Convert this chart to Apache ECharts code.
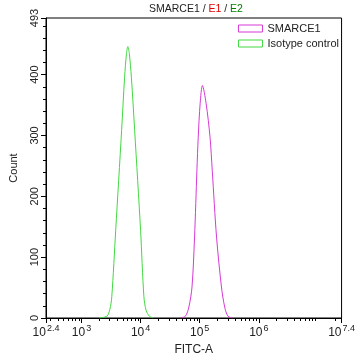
<!DOCTYPE html>
<html><head><meta charset="utf-8">
<script src="https://cdn.jsdelivr.net/npm/echarts@6/dist/echarts.min.js"></script>
<style>html,body{margin:0;padding:0;background:#fff}#c{width:358px;height:361px}</style>
</head><body><div id="c"></div>
<script>
// x values are log10(FITC-A)
const smarceX = [4.676, 4.759, 4.817, 4.870, 4.913, 4.953, 4.975, 5.008, 5.046, 5.108, 5.175, 5.212, 5.285, 5.368, 5.423, 5.478, 5.556];
const smarceY = [0, 3, 18, 51, 133, 243, 297, 353, 382, 353, 297, 243, 133, 51, 18, 3, 0];
const isoX = [3.297, 3.430, 3.480, 3.513, 3.579, 3.679, 3.729, 3.762, 3.784, 3.809, 3.845, 3.900, 4.000, 4.056, 4.095, 4.149, 4.211];
const isoY = [0, 3, 14, 35, 144, 308, 395, 435, 446, 435, 395, 308, 144, 35, 12, 3, 0];
const xMajorTicks = [2.4, 3, 4, 5, 6, 7.4];
const yLabels = [0, 100, 200, 300, 400, 493];
const seriesNames = ['SMARCE1', 'Isotype control'];

const xMinor = [];
for (let d = 2; d <= 7; d++) for (let k = 2; k <= 9; k++) {
  const v = d + Math.log10(k);
  if (v > 2.4 && v < 7.4) xMinor.push(v);
}
const yMinor = [];
for (let v = 20; v < 493; v += 20) if (v % 100) yMinor.push(v);

const font = 'Liberation Sans, Arial, sans-serif';
const chart = echarts.init(document.getElementById('c'));
chart.setOption({
  animation: false,
  textStyle: { fontFamily: font },
  title: {
    text: '{a|SMARCE1 / }{r|E1}{a| / }{g|E2}',
    left: 144, top: -1,
    textStyle: { fontWeight: 'normal', rich: {
      a: { fontSize: 10.5, color: '#222', fontFamily: font, fontWeight: 'normal' },
      r: { fontSize: 10.5, color: '#e00000', fontFamily: font, fontWeight: 'normal' },
      g: { fontSize: 10.5, color: '#008000', fontFamily: font, fontWeight: 'normal' }
    } }
  },
  legend: {
    right: 14, top: 18, orient: 'vertical', itemWidth: 24, itemHeight: 7, itemGap: 4,
    icon: 'rect',
    textStyle: { fontSize: 11, color: '#222', fontFamily: font },
    data: [
      { name: seriesNames[0], itemStyle: { color: 'rgba(0,0,0,0)', borderColor: '#d63ad6', borderWidth: 1 } },
      { name: seriesNames[1], itemStyle: { color: 'rgba(0,0,0,0)', borderColor: '#40d840', borderWidth: 1 } }
    ]
  },
  grid: { left: 43, right: 14, top: 18, bottom: 43, show: true, borderColor: '#000', borderWidth: 1, backgroundColor: 'transparent' },
  xAxis: [{
    type: 'value', min: 2.4, max: 7.4,
    name: 'FITC-A', nameLocation: 'middle', nameGap: 26,
    nameTextStyle: { fontSize: 12, color: '#222', fontFamily: font },
    axisLine: { lineStyle: { color: '#000' } },
    splitLine: { show: false },
    axisTick: { customValues: xMajorTicks, length: 5, lineStyle: { color: '#000' } },
    axisLabel: {
      customValues: xMajorTicks, margin: 6,
      formatter: v => '{b|10}{s|' + (Math.round(v * 10) / 10) + '}',
      rich: {
        b: { fontSize: 12, color: '#222', fontFamily: font },
        s: { fontSize: 9, color: '#222', fontFamily: font, padding: [0, 0, 8, 1] }
      }
    }
  }, {
    type: 'value', min: 2.4, max: 7.4, position: 'bottom',
    axisLine: { show: false }, splitLine: { show: false },
    axisTick: { customValues: xMinor, length: 3, lineStyle: { color: '#000' } },
    axisLabel: { show: false }
  }],
  yAxis: [{
    type: 'value', min: 0, max: 493,
    name: 'Count', nameLocation: 'middle', nameGap: 27, nameRotate: 90,
    nameTextStyle: { fontSize: 11, color: '#222', fontFamily: font },
    axisLine: { show: true, lineStyle: { color: '#000' } },
    splitLine: { show: false },
    axisTick: { customValues: yLabels, length: 5, lineStyle: { color: '#000' } },
    axisLabel: { customValues: yLabels, rotate: 90, margin: 6, fontSize: 11, color: '#222', fontFamily: font }
  }, {
    type: 'value', min: 0, max: 493, position: 'left',
    axisLine: { show: false }, splitLine: { show: false },
    axisTick: { customValues: yMinor, length: 3, lineStyle: { color: '#000' } },
    axisLabel: { show: false }
  }],
  series: [
    { name: seriesNames[0], type: 'line', smooth: 0.3, showSymbol: false, symbol: 'none',
      lineStyle: { color: '#d63ad6', width: 1 }, itemStyle: { color: '#d63ad6' },
      data: smarceX.map((x, i) => [x, smarceY[i]]) },
    { name: seriesNames[1], type: 'line', smooth: 0.3, showSymbol: false, symbol: 'none',
      lineStyle: { color: '#40d840', width: 1 }, itemStyle: { color: '#40d840' },
      data: isoX.map((x, i) => [x, isoY[i]]) }
  ]
});
</script></body></html>
